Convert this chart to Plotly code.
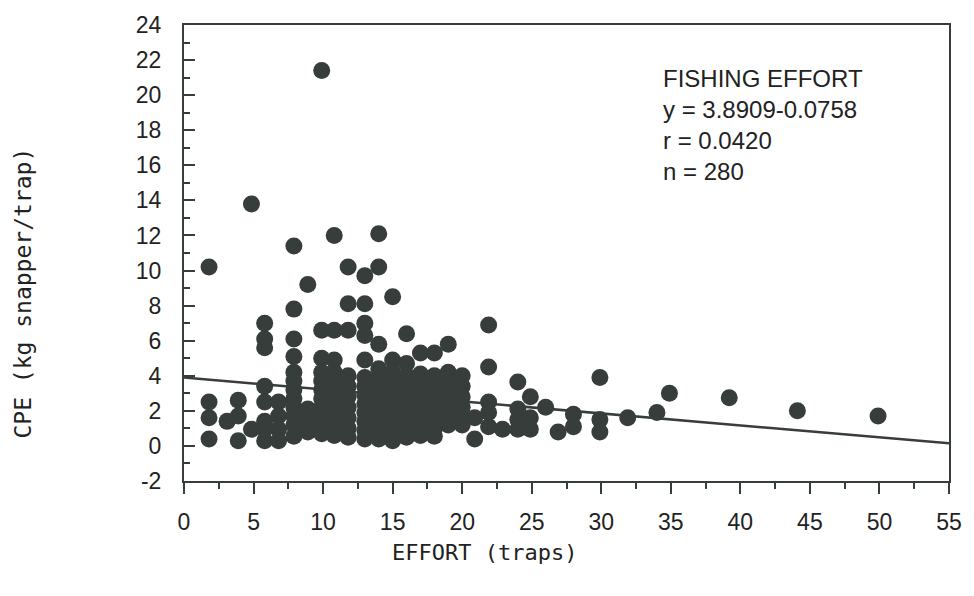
import plotly.graph_objects as go

# ---- data (effort in traps, CPE in kg snapper/trap) ----
effort = [
    1.8, 1.8, 1.8, 1.8,
    3.1,
    3.9, 3.9, 3.9,
    4.85, 4.85,
    5.8, 5.8, 5.8, 5.8, 5.8, 5.8, 5.8, 5.8,
    6.8, 6.8, 6.8, 6.8,
    7.9, 7.9, 7.9, 7.9, 7.9, 7.9, 7.9, 7.9, 7.9, 7.9, 7.9, 7.9,
    8.9, 8.9, 8.9, 8.9,
    9.9, 9.9, 9.9, 9.9, 9.9, 9.9, 9.9, 9.9, 9.9, 9.9, 9.9,
    10.8, 10.8, 10.8, 10.8, 10.8, 10.8, 10.8, 10.8, 10.8, 10.8,
    11.8, 11.8, 11.8, 11.8, 11.8, 11.8, 11.8, 11.8, 11.8, 11.8,
    13, 13, 13, 13, 13, 13, 13, 13, 13, 13, 13, 13, 13,
    14, 14, 14, 14, 14, 14, 14, 14, 14, 14, 14, 14,
    15, 15, 15, 15, 15, 15, 15, 15, 15, 15,
    16, 16, 16, 16, 16, 16, 16, 16, 16,
    17, 17, 17, 17, 17, 17, 17, 17,
    18, 18, 18, 18, 18, 18, 18, 18,
    19, 19, 19, 19, 19, 19, 19,
    20, 20, 20, 20, 20, 20,
    20.9, 20.9,
    21.9, 21.9, 21.9, 21.9, 21.9,
    22.9,
    24, 24, 24, 24,
    24.9, 24.9, 24.9,
    26,
    26.9,
    28, 28,
    29.9, 29.9, 29.9,
    31.9,
    34,
    34.9,
    39.2,
    44.1,
    49.9,
]
cpe = [
    10.2, 2.5, 1.6, 0.4,
    1.4,
    2.6, 1.7, 0.3,
    13.8, 0.95,
    7.0, 6.1, 5.6, 3.4, 2.5, 1.4, 0.95, 0.3,
    2.5, 1.7, 0.95, 0.3,
    11.4, 7.8, 6.1, 5.1, 4.2, 3.7, 3.2, 2.7, 2.2, 1.7, 1.2, 0.55,
    9.2, 2.1, 1.5, 0.8,
    21.4, 6.6, 5.0, 4.2, 3.7, 3.2, 2.7, 2.2, 1.7, 1.2, 0.7,
    12.0, 6.6, 4.9, 4.2, 3.6, 3.0, 2.4, 1.8, 1.2, 0.6,
    10.2, 8.1, 6.6, 4.0, 3.4, 2.8, 2.2, 1.6, 1.0, 0.5,
    9.7, 8.1, 7.0, 6.3, 4.9, 3.9, 3.4, 2.9, 2.4, 1.9, 1.4, 0.9, 0.4,
    12.1, 10.2, 5.8, 4.4, 3.9, 3.4, 2.9, 2.4, 1.9, 1.4, 0.9, 0.4,
    8.5, 4.9, 4.2, 3.6, 3.0, 2.4, 1.8, 1.2, 0.6, 0.3,
    6.4, 4.7, 4.0, 3.4, 2.8, 2.2, 1.6, 1.0, 0.5,
    5.3, 4.1, 3.5, 2.9, 2.3, 1.7, 1.1, 0.6,
    5.3, 4.0, 3.4, 2.8, 2.2, 1.6, 1.0, 0.55,
    5.8, 4.2, 3.6, 3.0, 2.4, 1.8, 1.2,
    4.0, 3.4, 2.8, 2.2, 1.6, 1.2,
    1.6, 0.4,
    6.9, 4.5, 2.5, 1.9, 1.1,
    0.95,
    3.65, 2.1, 1.5, 0.95,
    2.8, 1.6, 0.95,
    2.2,
    0.8,
    1.8, 1.1,
    3.9, 1.5, 0.8,
    1.6,
    1.9,
    3.0,
    2.75,
    2.0,
    1.7,
]

# regression line endpoints as drawn
line_x = [0, 55]
line_y = [3.9, 0.15]

stats_lines = ["FISHING EFFORT", "y = 3.8909-0.0758", "r = 0.0420", "n = 280"]

x_ticks = [0, 5, 10, 15, 20, 25, 30, 35, 40, 45, 50, 55]
y_ticks = [-2, 0, 2, 4, 6, 8, 10, 12, 14, 16, 18, 20, 22, 24]

x_title = "EFFORT (traps)"
y_title = "CPE (kg snapper/trap)"

INK = "#373d3a"
TXT = "#222"
W, H = 974, 596
L, R, T, B = 184, 19, 17, 115
plot_w = W - L - R
plot_h = H - T - B

fig = go.Figure()
fig.add_trace(go.Scatter(
    x=line_x, y=line_y, mode="lines",
    line=dict(color=INK, width=2.5), hoverinfo="skip", showlegend=False))
fig.add_trace(go.Scatter(
    x=effort, y=cpe, mode="markers",
    marker=dict(color=INK, size=17, line=dict(width=0)),
    showlegend=False))

tick_font = dict(family="Liberation Sans", size=23, color=TXT)
fig.update_xaxes(
    range=[0, 55], tickvals=x_ticks, ticktext=[str(v) for v in x_ticks],
    ticks="outside", ticklen=11, tickwidth=2, tickcolor=INK,
    minor=dict(dtick=2.5, tick0=0, ticks="outside", ticklen=6, tickwidth=2, tickcolor=INK),
    showline=True, linecolor=INK, linewidth=2, mirror=True,
    showgrid=False, zeroline=False, tickfont=tick_font, ticklabelstandoff=8,
)
fig.update_yaxes(
    range=[-2, 24], tickvals=y_ticks, ticktext=[str(v) for v in y_ticks],
    ticks="inside", ticklen=11, tickwidth=2, tickcolor=INK,
    minor=dict(dtick=1, tick0=0, ticks="inside", ticklen=6, tickwidth=2, tickcolor=INK),
    showline=True, linecolor=INK, linewidth=2, mirror=True,
    showgrid=False, zeroline=False, tickfont=tick_font, ticklabelstandoff=16,
)

# axis titles placed as in the reference (not centred on the plot area)
fig.add_annotation(
    text=x_title, xref="paper", yref="paper",
    x=(487 - L) / plot_w, y=(H - B - 554) / plot_h,
    xanchor="center", yanchor="middle", showarrow=False,
    font=dict(family="DejaVu Sans Mono", size=22, color=TXT))
fig.add_annotation(
    text=y_title, xref="paper", yref="paper", textangle=-90,
    x=(22 - L) / plot_w, y=(H - B - 290) / plot_h,
    xanchor="center", yanchor="middle", showarrow=False,
    font=dict(family="DejaVu Sans Mono", size=23, color=TXT))

line_py = [71, 103, 135, 166]
for txt, py in zip(stats_lines, line_py):
    fig.add_annotation(
        text=txt, xref="paper", yref="paper",
        x=(665 - L) / plot_w, y=(H - B - py) / plot_h,
        xanchor="left", yanchor="middle", showarrow=False,
        font=dict(family="Liberation Sans", size=24, color=TXT))

fig.update_layout(
    width=W, height=H, margin=dict(l=L, r=R, t=T, b=B),
    paper_bgcolor="white", plot_bgcolor="white",
)
fig.write_html("out.html")
